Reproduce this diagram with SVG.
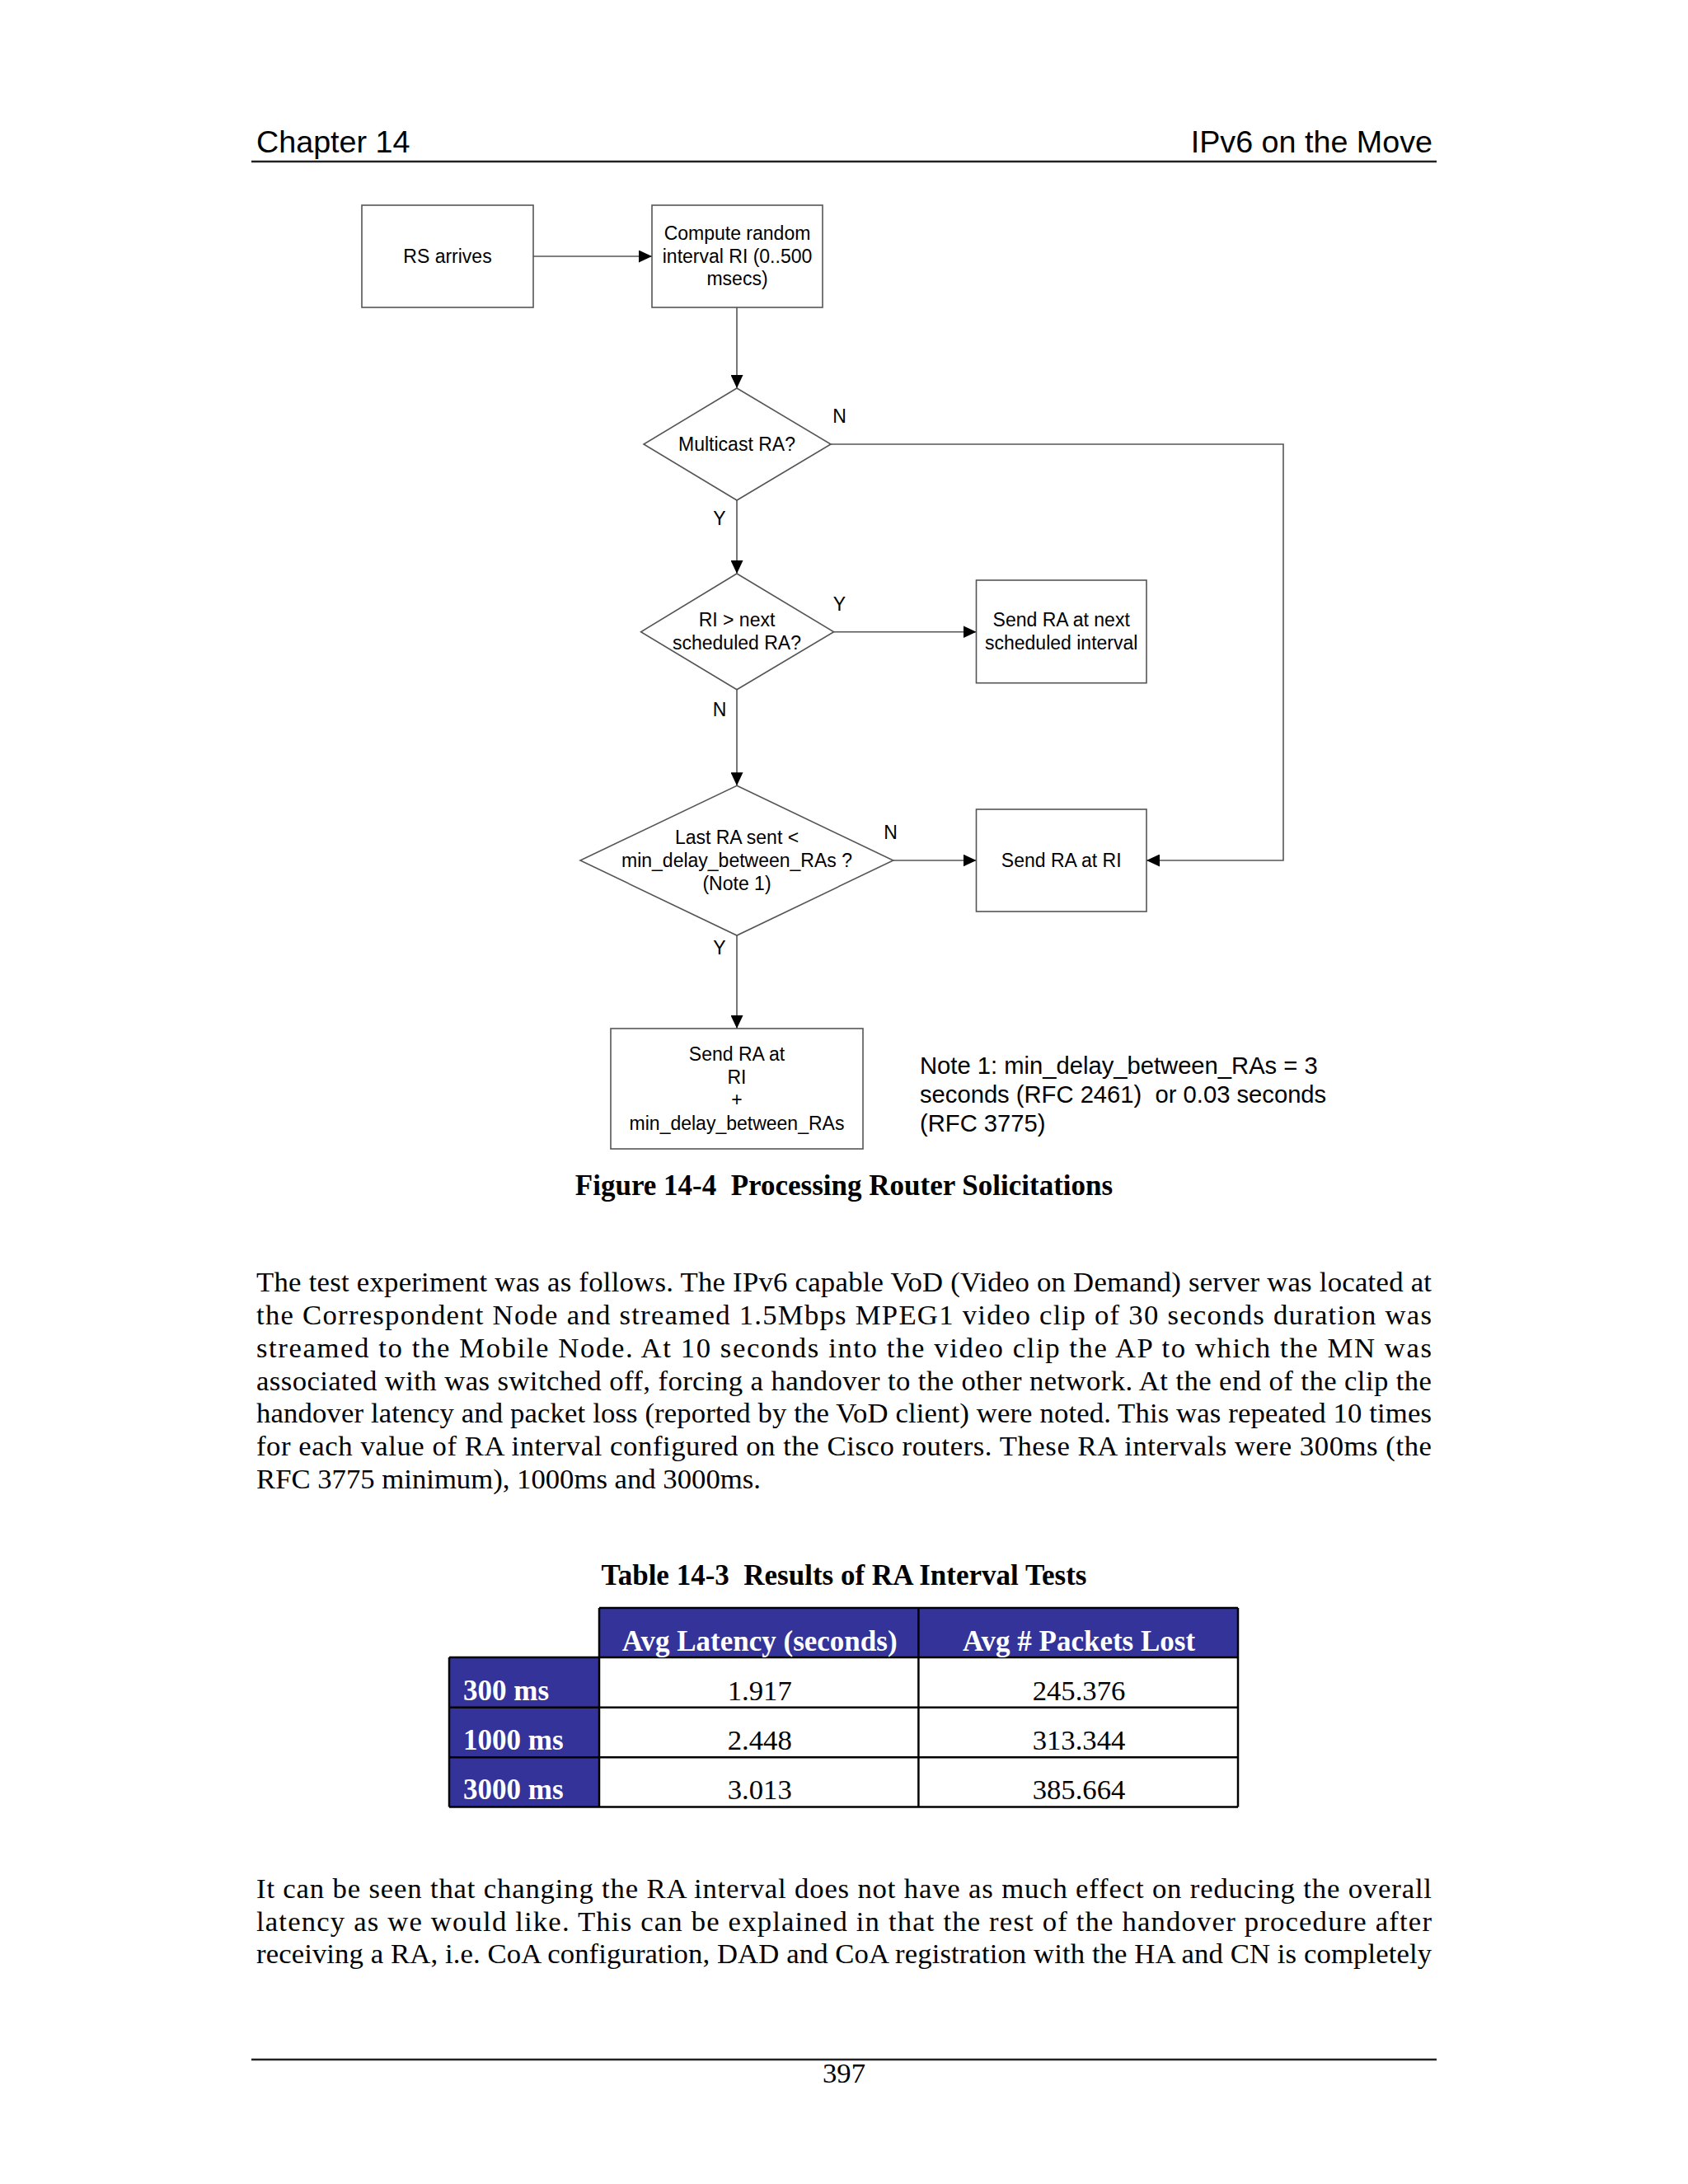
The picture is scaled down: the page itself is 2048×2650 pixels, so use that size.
<svg xmlns="http://www.w3.org/2000/svg" width="2048" height="2650" viewBox="0 0 2048 2650">
<style>
.hd{font-family:"Liberation Sans",Arial,sans-serif;font-size:37.7px;fill:#000}
.dg{font-family:"Liberation Sans",Arial,sans-serif;font-size:23px;fill:#000;text-anchor:middle}
.lb{font-family:"Liberation Sans",Arial,sans-serif;font-size:23px;fill:#000;text-anchor:middle}
.nt{font-family:"Liberation Sans",Arial,sans-serif;font-size:29.2px;fill:#000;white-space:pre}
.box{fill:#fff;stroke:#555;stroke-width:1.6}
.con{fill:none;stroke:#555;stroke-width:1.6}
.body{font-family:"Liberation Serif","Times New Roman",serif;font-size:34.7px;fill:#000}
.cap{font-family:"Liberation Serif","Times New Roman",serif;font-size:35px;font-weight:bold;fill:#000;text-anchor:middle;white-space:pre}
.th{font-family:"Liberation Serif","Times New Roman",serif;font-size:35px;font-weight:bold;fill:#fff}
.td{font-family:"Liberation Serif","Times New Roman",serif;font-size:34.7px;fill:#000;text-anchor:middle}
.blue{fill:#333399}
.rule{stroke:#222;stroke-width:2.5}
</style>
<defs>
<marker id="ah" markerUnits="userSpaceOnUse" markerWidth="17" markerHeight="15" refX="16" refY="7.5" orient="auto">
<path d="M0,0 L16,7.5 L0,15 z" fill="#000"/>
</marker>
</defs>

<g id="header">
<text class="hd" x="311" y="185">Chapter 14</text>
<text class="hd" x="1738" y="185" text-anchor="end">IPv6 on the Move</text>
<line class="rule" x1="305" y1="196" x2="1743" y2="196"/>
</g>

<g id="connectors">
<line class="con" x1="647" y1="311" x2="791" y2="311" marker-end="url(#ah)"/>
<line class="con" x1="894" y1="373" x2="894" y2="471" marker-end="url(#ah)"/>
<polyline class="con" points="1008,539 1557,539 1557,1044 1391,1044" marker-end="url(#ah)"/>
<line class="con" x1="894" y1="607" x2="894" y2="696" marker-end="url(#ah)"/>
<line class="con" x1="1011.6" y1="766.7" x2="1184.5" y2="766.7" marker-end="url(#ah)"/>
<line class="con" x1="894" y1="836.7" x2="894" y2="953.3" marker-end="url(#ah)"/>
<line class="con" x1="1083.7" y1="1044" x2="1184.5" y2="1044" marker-end="url(#ah)"/>
<line class="con" x1="894" y1="1135" x2="894" y2="1248" marker-end="url(#ah)"/>
<text class="lb" x="1018.5" y="513">N</text>
<text class="lb" x="873" y="637">Y</text>
<text class="lb" x="1018.5" y="741">Y</text>
<text class="lb" x="873" y="869">N</text>
<text class="lb" x="1080.5" y="1018">N</text>
<text class="lb" x="873" y="1158">Y</text>
</g>

<g id="rs-arrives">
<rect class="box" x="439" y="249" width="208" height="124"/>
<text class="dg" x="543" y="319">RS arrives</text>
</g>

<g id="compute-ri">
<rect class="box" x="791" y="249" width="207" height="124"/>
<text class="dg" x="894.5" y="291">Compute random</text>
<text class="dg" x="894.5" y="319">interval RI (0..500</text>
<text class="dg" x="894.5" y="346">msecs)</text>
</g>

<g id="multicast">
<polygon class="box" points="894,471 1008,539 894,607 781,539"/>
<text class="dg" x="894" y="547">Multicast RA?</text>
</g>

<g id="ri-next">
<polygon class="box" points="894,696 1011.6,766.7 894,836.7 777.6,766.7"/>
<text class="dg" x="894" y="760">RI &gt; next</text>
<text class="dg" x="894" y="788">scheduled RA?</text>
</g>

<g id="send-next">
<rect class="box" x="1184.5" y="704" width="206.5" height="124.7"/>
<text class="dg" x="1287.7" y="760">Send RA at next</text>
<text class="dg" x="1287.7" y="788">scheduled interval</text>
</g>

<g id="last-ra">
<polygon class="box" points="894,953.3 1083.7,1044 894,1135 704,1044"/>
<text class="dg" x="894" y="1024">Last RA sent &lt;</text>
<text class="dg" x="894" y="1052">min_delay_between_RAs ?</text>
<text class="dg" x="894" y="1080">(Note 1)</text>
</g>

<g id="send-ri">
<rect class="box" x="1184.5" y="982" width="206.5" height="124"/>
<text class="dg" x="1287.7" y="1052">Send RA at RI</text>
</g>

<g id="send-ri-delay">
<rect class="box" x="741" y="1248" width="306" height="146"/>
<text class="dg" x="894" y="1287">Send RA at</text>
<text class="dg" x="894" y="1315">RI</text>
<text class="dg" x="894" y="1342">+</text>
<text class="dg" x="894" y="1371">min_delay_between_RAs</text>
</g>

<g id="note">
<text class="nt" x="1116" y="1303">Note 1: min_delay_between_RAs = 3</text>
<text class="nt" x="1116" y="1338">seconds (RFC 2461)  or 0.03 seconds</text>
<text class="nt" x="1116" y="1373">(RFC 3775)</text>
</g>

<g id="figure-caption">
<text class="cap" x="1024" y="1450">Figure 14-4  Processing Router Solicitations</text>
</g>

<g id="paragraph1">
<text class="body" x="311" y="1567" textLength="1426" lengthAdjust="spacing">The test experiment was as follows. The IPv6 capable VoD (Video on Demand) server was located at</text>
<text class="body" x="311" y="1607" textLength="1426" lengthAdjust="spacing">the Correspondent Node and streamed 1.5Mbps MPEG1 video clip of 30 seconds duration was</text>
<text class="body" x="311" y="1647" textLength="1426" lengthAdjust="spacing">streamed to the Mobile Node. At 10 seconds into the video clip the AP to which the MN was</text>
<text class="body" x="311" y="1686.5" textLength="1426" lengthAdjust="spacing">associated with was switched off, forcing a handover to the other network. At the end of the clip the</text>
<text class="body" x="311" y="1726" textLength="1426" lengthAdjust="spacing">handover latency and packet loss (reported by the VoD client) were noted. This was repeated 10 times</text>
<text class="body" x="311" y="1766" textLength="1426" lengthAdjust="spacing">for each value of RA interval configured on the Cisco routers. These RA intervals were 300ms (the</text>
<text class="body" x="311" y="1805.5">RFC 3775 minimum), 1000ms and 3000ms.</text>
</g>

<g id="table-caption">
<text class="cap" x="1024" y="1923">Table 14-3  Results of RA Interval Tests</text>
</g>

<g id="table">
<rect class="blue" x="727" y="1951" width="775" height="60"/>
<rect class="blue" x="545" y="2011" width="182" height="181.5"/>
<rect x="727" y="2011" width="775" height="181.5" fill="#fff"/>
<g stroke="#000" stroke-width="2.5" fill="none">
<line x1="727" y1="1951" x2="1502" y2="1951"/>
<line x1="545" y1="2011" x2="1502" y2="2011"/>
<line x1="545" y1="2071.7" x2="1502" y2="2071.7"/>
<line x1="545" y1="2132.3" x2="1502" y2="2132.3"/>
<line x1="545" y1="2192.5" x2="1502" y2="2192.5"/>
<line x1="545" y1="2011" x2="545" y2="2192.5"/>
<line x1="727" y1="1951" x2="727" y2="2192.5"/>
<line x1="1114.4" y1="1951" x2="1114.4" y2="2192.5"/>
<line x1="1502" y1="1951" x2="1502" y2="2192.5"/>
</g>
<text class="th" x="921.7" y="2003" text-anchor="middle">Avg Latency (seconds)</text>
<text class="th" x="1309" y="2003" text-anchor="middle">Avg # Packets Lost</text>
<text class="th" x="562" y="2063">300 ms</text>
<text class="th" x="562" y="2123">1000 ms</text>
<text class="th" x="562" y="2183">3000 ms</text>
<text class="td" x="921.7" y="2063">1.917</text>
<text class="td" x="1309" y="2063">245.376</text>
<text class="td" x="921.7" y="2123">2.448</text>
<text class="td" x="1309" y="2123">313.344</text>
<text class="td" x="921.7" y="2183">3.013</text>
<text class="td" x="1309" y="2183">385.664</text>
</g>

<g id="paragraph2">
<text class="body" x="311" y="2303" textLength="1426" lengthAdjust="spacing">It can be seen that changing the RA interval does not have as much effect on reducing the overall</text>
<text class="body" x="311" y="2342.5" textLength="1426" lengthAdjust="spacing">latency as we would like. This can be explained in that the rest of the handover procedure after</text>
<text class="body" x="311" y="2382" textLength="1426" lengthAdjust="spacing">receiving a RA, i.e. CoA configuration, DAD and CoA registration with the HA and CN is completely</text>
</g>

<g id="footer">
<line class="rule" x1="305" y1="2499" x2="1743" y2="2499"/>
<text class="td" x="1024" y="2527">397</text>
</g>
</svg>
